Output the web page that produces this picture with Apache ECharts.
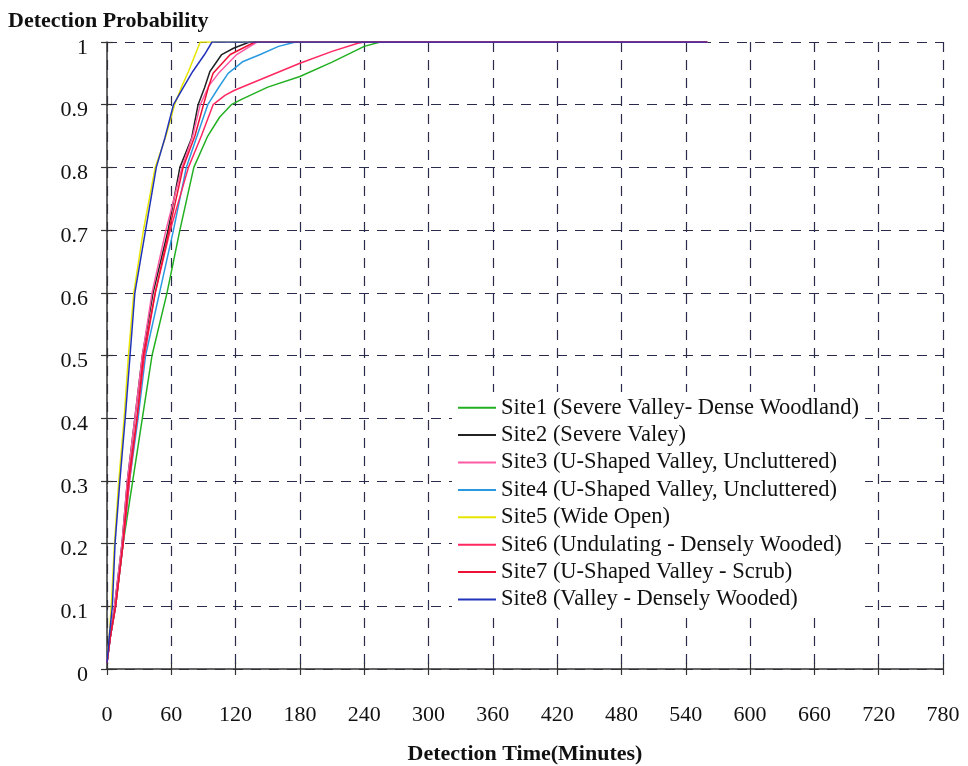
<!DOCTYPE html>
<html>
<head>
<meta charset="utf-8">
<script src="https://cdn.jsdelivr.net/npm/echarts@6/dist/echarts.min.js"></script>
<style>html,body{margin:0;padding:0;background:#fff}#c{width:968px;height:766px}</style>
</head>
<body>
<div id="c"></div>
<script>
var seriesNames = [
  "Site1 (Severe Valley- Dense Woodland)",
  "Site2 (Severe Valey)",
  "Site3 (U-Shaped Valley, Uncluttered)",
  "Site4 (U-Shaped Valley, Uncluttered)",
  "Site5 (Wide Open)",
  "Site6 (Undulating - Densely Wooded)",
  "Site7 (U-Shaped Valley - Scrub)",
  "Site8 (Valley - Densely Wooded)"
];
var xTicks = [0,60,120,180,240,300,360,420,480,540,600,660,720,780];
var yTicks = [0,0.1,0.2,0.3,0.4,0.5,0.6,0.7,0.8,0.9,1];

var site1 = [[0,0.01],[3,0.05],[8,0.1],[15,0.2],[24,0.3],[33,0.4],[42,0.5],[56,0.6],[68,0.7],[81,0.8],[94,0.85],[105,0.88],[116,0.9],[125,0.908],[150,0.928],[180,0.945],[210,0.968],[240,0.993],[255,1],[560,1]];
var site2 = [[0,0.01],[3,0.05],[7,0.1],[14,0.2],[19,0.3],[26,0.4],[33,0.5],[43,0.6],[57,0.7],[68,0.8],[79,0.847],[85,0.9],[91,0.927],[96,0.953],[107,0.98],[118,0.99],[133,1],[560,1]];
var site3 = [[0,0.01],[3,0.05],[7,0.1],[14,0.2],[19,0.3],[26,0.4],[33,0.5],[42,0.6],[55,0.7],[70,0.8],[80,0.85],[87,0.9],[95,0.93],[104,0.95],[121,0.98],[140,1],[560,1]];
var site4 = [[0,0.01],[3,0.05],[8,0.1],[15,0.2],[21,0.3],[29,0.4],[36,0.5],[49,0.6],[62,0.7],[74,0.8],[84,0.85],[94,0.9],[104,0.927],[113,0.95],[127,0.969],[143,0.98],[160,0.993],[176,1],[560,1]];
var site5 = [[0,0.01],[2,0.05],[4,0.1],[7,0.2],[11,0.3],[16,0.4],[20,0.5],[25,0.6],[34,0.7],[45,0.8],[55,0.85],[63,0.9],[70,0.93],[76,0.953],[87,1],[560,1]];
var site6 = [[0,0.01],[3,0.05],[8,0.1],[15,0.2],[21,0.3],[28,0.4],[35,0.5],[45,0.6],[59,0.7],[76,0.8],[88,0.85],[99,0.9],[110,0.915],[119,0.923],[150,0.945],[180,0.966],[210,0.985],[234,0.998],[240,1],[560,1]];
var site7 = [[0,0.01],[3,0.05],[8,0.1],[15,0.2],[20,0.3],[28,0.4],[34,0.5],[45,0.6],[58,0.7],[71,0.8],[82,0.85],[90,0.9],[95,0.93],[99,0.95],[115,0.98],[138,1],[560,1]];
var site8 = [[0,0.01],[2,0.05],[5,0.1],[7.5,0.2],[12,0.3],[17,0.4],[21.5,0.5],[26,0.6],[36,0.7],[46,0.8],[54,0.847],[62,0.9],[71,0.927],[80,0.953],[91,0.98],[98,1],[560,1]];

var allData = [site1,site2,site3,site4,site5,site6,site7,site8];
var colors = ['#22b022','#222222','#ff5aa5','#2a9ae0','#e6e600','#ff2860','#ee1133','#2233bb'];

var FONT = '"Liberation Serif","Times New Roman",serif';
var gridColor = '#2a2a4a';

var series = allData.map(function(d,i){
  return {
    name: seriesNames[i], type:'line', data:d, showSymbol:false, symbol:'none',
    xAxisIndex:0, yAxisIndex:0,
    lineStyle:{color:colors[i], width:1.5}, itemStyle:{color:colors[i]},
    z: 3 + i
  };
});

var chart = echarts.init(document.getElementById('c'));
chart.setOption({
  animation:false,
  backgroundColor:'#ffffff',
  color: colors,
  grid:{left:107, right:25, top:42, bottom:97, containLabel:false, outerBoundsMode:'none'},
  legend:{
    orient:'vertical', left:452, top:392,
    data: seriesNames,
    icon:'rect', itemWidth:38, itemHeight:2, itemGap:4,
    backgroundColor:'#ffffff', padding:[4,6,4,6],
    textStyle:{fontFamily:FONT, fontSize:22.5, color:'#111', lineHeight:23.4}
  },
  xAxis:[{
    type:'value', min:xTicks[0], max:xTicks[xTicks.length-1], interval:60,
    name:'Detection Time(Minutes)', nameLocation:'middle', nameGap:74,
    nameTextStyle:{fontFamily:FONT, fontSize:22, fontWeight:'bold', color:'#111'},
    axisLine:{show:true, lineStyle:{color:'#333', width:1.5}},
    axisTick:{show:true, length:6, lineStyle:{color:'#333', width:1.2}},
    axisLabel:{fontFamily:FONT, fontSize:22, color:'#111', margin:35},
    splitLine:{show:true, lineStyle:{color:gridColor, type:[10,8], width:1.2}}
  },{
    type:'value', min:xTicks[0], max:xTicks[xTicks.length-1], interval:60, position:'bottom',
    axisLine:{show:false}, axisTick:{show:true, inside:true, length:6, lineStyle:{color:'#333', width:1.2}},
    axisLabel:{show:false}, splitLine:{show:false}
  }],
  yAxis:[{
    type:'value', min:yTicks[0], max:yTicks[yTicks.length-1], interval:0.1,
    name:'Detection Probability', nameLocation:'end', nameGap:10,
    nameTextStyle:{fontFamily:FONT, fontSize:22, fontWeight:'bold', color:'#111', align:'left', padding:[0,0,0,-99]},
    axisLine:{show:true, lineStyle:{color:'#333', width:1.5}},
    axisTick:{show:true, length:6, lineStyle:{color:'#333', width:1.2}},
    axisLabel:{margin:19,
      formatter:function(v){ return '{a|' + v + '}'; },
      rich:{a:{fontFamily:FONT, fontSize:22, color:'#111', padding:[12,0,0,0]}}},
    splitLine:{show:true, lineStyle:{color:gridColor, type:[10,8], width:1.2}}
  },{
    type:'value', min:yTicks[0], max:yTicks[yTicks.length-1], interval:0.1, position:'left',
    axisLine:{show:false}, axisTick:{show:true, inside:true, length:6, lineStyle:{color:'#333', width:1.2}},
    axisLabel:{show:false}, splitLine:{show:false}
  }],
  series: series
});
</script>
</body>
</html>
